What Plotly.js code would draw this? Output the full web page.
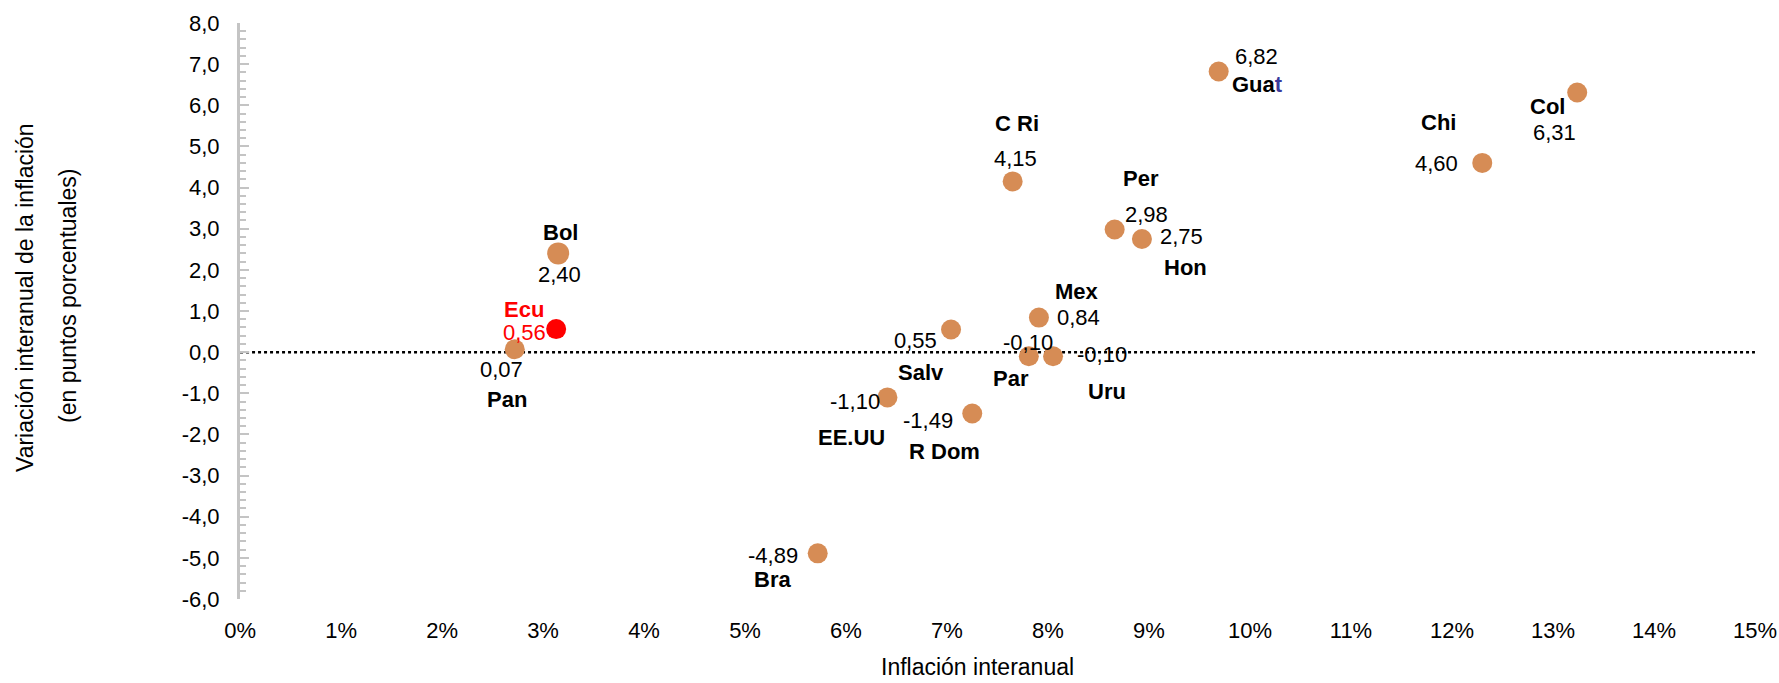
<!DOCTYPE html>
<html>
<head>
<meta charset="utf-8">
<script src="https://cdn.plot.ly/plotly-3.0.1.min.js"></script>
<style>
  html, body { margin: 0; padding: 0; background: #ffffff; }
  #chart { width: 1779px; height: 683px; }
</style>
</head>
<body>
<div id="chart"></div>
<script>
// ---- Data ----
const countries = ['Pan', 'Bol', 'Ecu', 'Bra', 'EE.UU', 'Salv', 'R Dom', 'C Ri', 'Par', 'Mex', 'Uru', 'Per', 'Hon', 'Guat', 'Chi', 'Col'];
const inflation = [2.72, 3.15, 3.13, 5.72, 6.41, 7.04, 7.25, 7.65, 7.81, 7.91, 8.05, 8.66, 8.93, 9.69, 12.30, 13.24];
const variation = [0.07, 2.40, 0.56, -4.89, -1.10, 0.55, -1.49, 4.15, -0.10, 0.84, -0.10, 2.98, 2.75, 6.82, 4.60, 6.31];
const highlight = 'Ecu';
const xTickVals = [0, 1, 2, 3, 4, 5, 6, 7, 8, 9, 10, 11, 12, 13, 14, 15];
const yTickVals = [-6, -5, -4, -3, -2, -1, 0, 1, 2, 3, 4, 5, 6, 7, 8];
const xTitle = 'Inflación interanual';
const yTitleLine1 = 'Variación interanual de la inflación';
const yTitleLine2 = '(en puntos porcentuales)';

// ---- Label placement (pixel offsets from each marker: [dx, dy], dy down) ----
const labelPlacement = {
  'Pan':   { name: [-8, 50],  value: [-13, 20] },
  'Bol':   { name: [2, -21],  value: [1, 21] },
  'Ecu':   { name: [-32, -20], value: [-32, 3] },
  'Bra':   { name: [-45, 26], value: [-45, 2] },
  'EE.UU': { name: [-36, 40], value: [-32, 4] },
  'Salv':  { name: [-30, 43], value: [-36, 11] },
  'R Dom': { name: [-28, 38], value: [-44, 7] },
  'C Ri':  { name: [4, -58],  value: [3, -23] },
  'Par':   { name: [-18, 22], value: [-1, -14] },
  'Mex':   { name: [38, -26], value: [40, 0] },
  'Uru':   { name: [54, 35],  value: [49, -2] },
  'Per':   { name: [26, -51], value: [32, -15] },
  'Hon':   { name: [44, 28],  value: [40, -3] },
  'Guat':  { name: [39, 13],  value: [38, -15] },
  'Chi':   { name: [-44, -40], value: [-46, 1] },
  'Col':   { name: [-30, 14], value: [-23, 40] }
};

const FONT = '"Liberation Sans Narrow", "Arial Narrow", "Liberation Sans", Arial, sans-serif';
const FS = 22;
const orange = '#D68C55';
const red = '#FF0000';
const fmt = v => v.toFixed(2).replace('.', ',');

const idxMain = countries.map((c, i) => i).filter(i => countries[i] !== highlight);
const idxHi = countries.map((c, i) => i).filter(i => countries[i] === highlight);

const traces = [
  {
    type: 'scatter', mode: 'markers',
    x: idxMain.map(i => inflation[i]), y: idxMain.map(i => variation[i]),
    marker: { color: orange, opacity: 1, size: idxMain.map(i => countries[i] === 'Bol' ? 22 : 20), line: { width: 0 } },
    hoverinfo: 'skip', cliponaxis: false
  },
  {
    type: 'scatter', mode: 'markers',
    x: idxHi.map(i => inflation[i]), y: idxHi.map(i => variation[i]),
    marker: { color: red, opacity: 1, size: 20, line: { width: 0 } },
    hoverinfo: 'skip', cliponaxis: false
  }
];

const annotations = [];
countries.forEach((c, i) => {
  const p = labelPlacement[c];
  const col = c === highlight ? red : '#000000';
  const nameText = c === 'Guat' ? 'Gua<span style="color:#3a3a9c">t</span>' : c;
  annotations.push({
    x: inflation[i], y: variation[i], xref: 'x', yref: 'y',
    text: '<b>' + nameText + '</b>', showarrow: false,
    xanchor: 'center', yanchor: 'middle', borderpad: 0,
    xshift: p.name[0], yshift: -p.name[1],
    font: { family: FONT, size: FS, color: col }
  });
  annotations.push({
    x: inflation[i], y: variation[i], xref: 'x', yref: 'y',
    text: fmt(variation[i]), showarrow: false,
    xanchor: 'center', yanchor: 'middle', borderpad: 0,
    xshift: p.value[0], yshift: -p.value[1],
    font: { family: FONT, size: FS, color: col }
  });
});

// axis titles as annotations (paper coords from plot area)
const plotL = 240, plotW = 1515, plotT = 23, plotH = 576;
const px2x = px => (px - plotL) / plotW;
const py2y = py => (plotT + plotH - py) / plotH;
annotations.push({
  xref: 'paper', yref: 'paper', x: px2x(977), y: py2y(667),
  text: xTitle, showarrow: false, xanchor: 'center', yanchor: 'middle',
  font: { family: FONT, size: 23, color: '#000000' }
});
annotations.push({
  xref: 'paper', yref: 'paper', x: px2x(25), y: py2y(298),
  text: yTitleLine1, showarrow: false, textangle: -90, xanchor: 'center', yanchor: 'middle',
  font: { family: FONT, size: 23, color: '#000000' }
});
annotations.push({
  xref: 'paper', yref: 'paper', x: px2x(68), y: py2y(296),
  text: yTitleLine2, showarrow: false, textangle: -90, xanchor: 'center', yanchor: 'middle',
  font: { family: FONT, size: 23, color: '#000000' }
});

const layout = {
  width: 1779, height: 683,
  margin: { l: plotL, r: 1779 - plotL - plotW, t: plotT, b: 683 - plotT - plotH },
  paper_bgcolor: '#ffffff', plot_bgcolor: '#ffffff',
  showlegend: false,
  separators: ',.',
  font: { family: FONT, size: FS, color: '#000000' },
  xaxis: {
    range: [-0.0005, 15.0005], tickvals: xTickVals, ticktext: xTickVals.map(v => v + '%'),
    showgrid: false, zeroline: false, showline: false, ticks: '',
    ticklabelstandoff: 16, ticklabeloverflow: 'allow',
    tickfont: { family: FONT, size: FS, color: '#000000' }
  },
  yaxis: {
    range: [-6, 8], tickvals: yTickVals, ticktext: yTickVals.map(v => v.toFixed(1).replace('.', ',')),
    showgrid: false, zeroline: false,
    showline: true, linecolor: '#c4c4c4', linewidth: 3,
    ticks: 'inside', ticklen: 9, tickwidth: 2, tickcolor: '#c4c4c4',
    minor: { dtick: 0.2, ticks: 'inside', ticklen: 6, tickwidth: 2, tickcolor: '#c4c4c4' },
    ticklabelstandoff: 13,
    tickfont: { family: FONT, size: FS, color: '#000000' }
  },
  shapes: [{
    type: 'line', xref: 'x', yref: 'y', x0: 0, x1: 15, y0: 0, y1: 0,
    line: { color: '#000000', width: 2.5, dash: 'dot' }, layer: 'below'
  }],
  annotations: annotations
};

Plotly.newPlot('chart', traces, layout, { displayModeBar: false, staticPlot: true });
</script>
</body>
</html>
